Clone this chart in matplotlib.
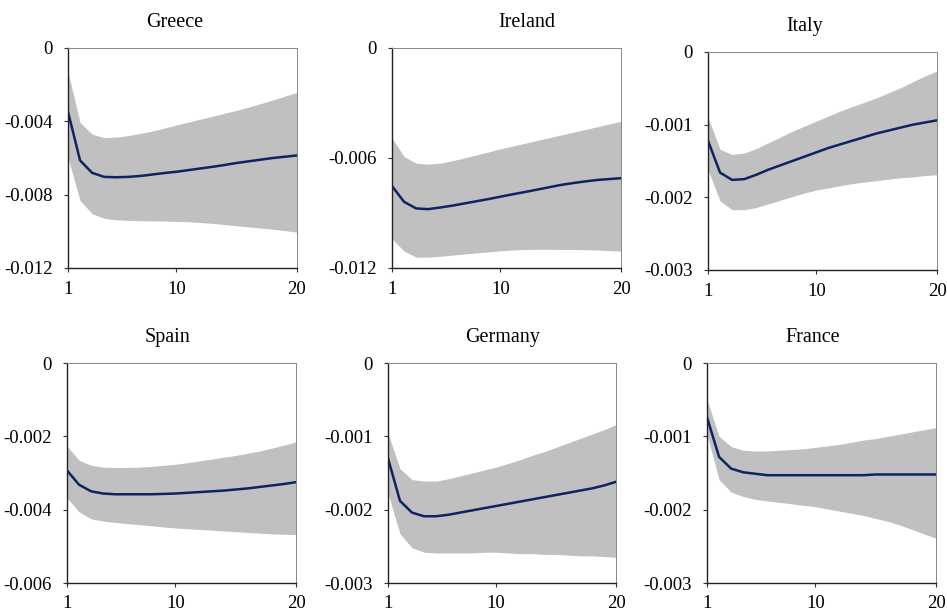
import numpy as np
import matplotlib
matplotlib.use("Agg")
import matplotlib.pyplot as plt

# Impulse responses, horizons 1..20 (values in units of 1e-3, sign negative)
horizon = np.arange(1, 21)

countries = ["Greece", "Ireland", "Italy", "Spain", "Germany", "France"]

greece_mid = [3.48, 6.13, 6.81, 7.03, 7.05, 7.03, 6.98, 6.90, 6.82, 6.75,
              6.66, 6.57, 6.48, 6.38, 6.27, 6.18, 6.09, 6.00, 5.93, 5.86]
greece_up = [1.32, 4.06, 4.70, 4.89, 4.86, 4.78, 4.66, 4.53, 4.37, 4.20,
             4.04, 3.88, 3.72, 3.56, 3.40, 3.22, 3.03, 2.83, 2.63, 2.42]
greece_lo = [5.99, 8.31, 9.04, 9.29, 9.37, 9.40, 9.42, 9.43, 9.44, 9.46,
             9.48, 9.52, 9.57, 9.63, 9.70, 9.76, 9.82, 9.89, 9.96, 10.05]

ireland_mid = [7.53, 8.39, 8.75, 8.79, 8.70, 8.60, 8.48, 8.36, 8.24, 8.11,
               7.98, 7.86, 7.73, 7.60, 7.47, 7.37, 7.28, 7.20, 7.15, 7.10]
ireland_up = [4.91, 5.92, 6.28, 6.34, 6.28, 6.15, 6.00, 5.83, 5.67, 5.50,
              5.35, 5.20, 5.05, 4.90, 4.75, 4.60, 4.45, 4.30, 4.15, 4.00]
ireland_lo = [10.40, 11.08, 11.41, 11.41, 11.36, 11.30, 11.24, 11.18, 11.12, 11.06,
              11.02, 10.99, 10.98, 10.98, 10.99, 10.99, 11.00, 11.02, 11.05, 11.08]

italy_mid = [1.22, 1.66, 1.76, 1.75, 1.69, 1.62, 1.56, 1.50, 1.44, 1.38,
             1.32, 1.27, 1.22, 1.17, 1.12, 1.08, 1.04, 1.00, 0.97, 0.94]
italy_up = [0.90, 1.34, 1.41, 1.39, 1.33, 1.25, 1.17, 1.09, 1.02, 0.95,
            0.88, 0.81, 0.75, 0.69, 0.63, 0.56, 0.49, 0.41, 0.33, 0.26]
italy_lo = [1.62, 2.05, 2.17, 2.17, 2.14, 2.09, 2.04, 1.99, 1.94, 1.90,
            1.87, 1.84, 1.81, 1.79, 1.77, 1.75, 1.73, 1.72, 1.70, 1.69]

spain_mid = [2.93, 3.32, 3.50, 3.56, 3.58, 3.58, 3.58, 3.58, 3.57, 3.56,
             3.54, 3.52, 3.50, 3.48, 3.45, 3.42, 3.38, 3.34, 3.30, 3.25]
spain_up = [2.27, 2.65, 2.79, 2.84, 2.85, 2.85, 2.84, 2.82, 2.79, 2.76,
            2.72, 2.67, 2.62, 2.57, 2.52, 2.46, 2.40, 2.32, 2.24, 2.15]
spain_lo = [3.68, 4.06, 4.25, 4.31, 4.35, 4.38, 4.41, 4.44, 4.47, 4.50,
            4.52, 4.54, 4.56, 4.58, 4.60, 4.62, 4.64, 4.66, 4.67, 4.68]

germany_mid = [1.30, 1.88, 2.04, 2.09, 2.09, 2.07, 2.04, 2.01, 1.98, 1.95,
               1.92, 1.89, 1.86, 1.83, 1.80, 1.77, 1.74, 1.71, 1.67, 1.62]
germany_up = [0.96, 1.44, 1.59, 1.61, 1.61, 1.58, 1.54, 1.50, 1.46, 1.42,
              1.37, 1.32, 1.26, 1.21, 1.15, 1.09, 1.03, 0.97, 0.91, 0.84]
germany_lo = [1.78, 2.33, 2.52, 2.58, 2.59, 2.59, 2.59, 2.59, 2.58, 2.58,
              2.59, 2.60, 2.60, 2.61, 2.61, 2.62, 2.63, 2.63, 2.64, 2.65]

france_mid = [0.74, 1.28, 1.44, 1.49, 1.51, 1.53, 1.53, 1.53, 1.53, 1.53,
              1.53, 1.53, 1.53, 1.53, 1.52, 1.52, 1.52, 1.52, 1.52, 1.52]
france_up = [0.50, 1.00, 1.14, 1.19, 1.20, 1.20, 1.19, 1.18, 1.17, 1.15,
             1.13, 1.11, 1.08, 1.05, 1.03, 1.00, 0.97, 0.94, 0.91, 0.88]
france_lo = [0.98, 1.59, 1.76, 1.82, 1.86, 1.88, 1.90, 1.92, 1.94, 1.96,
             1.99, 2.02, 2.05, 2.08, 2.12, 2.16, 2.21, 2.27, 2.33, 2.39]

mids = [greece_mid, ireland_mid, italy_mid, spain_mid, germany_mid, france_mid]
ups = [greece_up, ireland_up, italy_up, spain_up, germany_up, france_up]
los = [greece_lo, ireland_lo, italy_lo, spain_lo, germany_lo, france_lo]

# y ticks for each panel
yticks = [[0, -0.004, -0.008, -0.012],
          [0, -0.006, -0.012],
          [0, -0.001, -0.002, -0.003],
          [0, -0.002, -0.004, -0.006],
          [0, -0.001, -0.002, -0.003],
          [0, -0.001, -0.002, -0.003]]
ylabels = [["0", "-0.004", "-0.008", "-0.012"],
           ["0", "-0.006", "-0.012"],
           ["0", "-0.001", "-0.002", "-0.003"],
           ["0", "-0.002", "-0.004", "-0.006"],
           ["0", "-0.001", "-0.002", "-0.003"],
           ["0", "-0.001", "-0.002", "-0.003"]]

# axes rectangles in pixels (left, top, right, bottom) for a 947x612 figure
boxes = [(68, 48, 297, 268), (392, 48, 621, 268), (708, 52, 937, 270),
         (67, 363, 296, 583), (388, 363, 616, 583), (707, 363, 936, 583)]
title_x = [0.467, 0.59, 0.424, 0.44, 0.504, 0.463]

plt.rcParams['font.family'] = ['Liberation Serif', 'DejaVu Serif']

W, H = 947, 612
fig = plt.figure(figsize=(W / 100, H / 100), dpi=100)

for i in range(6):
    l, t, r, b = boxes[i]
    ax = fig.add_axes([l / W, 1 - b / H, (r - l) / W, (b - t) / H])
    mid = -np.array(mids[i]) * 1e-3
    up = -np.array(ups[i]) * 1e-3
    lo = -np.array(los[i]) * 1e-3
    ax.fill_between(horizon, lo, up, color='#c0c0c0', lw=0)
    ax.plot(horizon, mid, color='#0d2461', lw=1.8)
    ax.set_xlim(1, 20)
    ax.set_ylim(yticks[i][-1], 0)
    ax.set_yticks(yticks[i])
    ax.set_yticklabels(ylabels[i])
    ax.set_xticks([1, 10, 20])
    ax.set_xticklabels(["1", "10", "20"])
    ax.tick_params(labelsize=13.5, length=3, width=0.8, color='#333333')
    ax.tick_params(axis='y', pad=8)
    ax.tick_params(axis='x', pad=6)
    for side in ['left', 'bottom']:
        ax.spines[side].set_color('#222222')
        ax.spines[side].set_linewidth(1.0)
    for side in ['top', 'right']:
        ax.spines[side].set_color('#888888')
        ax.spines[side].set_linewidth(0.7)
    ax.set_title(countries[i], x=title_x[i], pad=15, fontsize=14.5)

fig.savefig('out.png', dpi=100)
